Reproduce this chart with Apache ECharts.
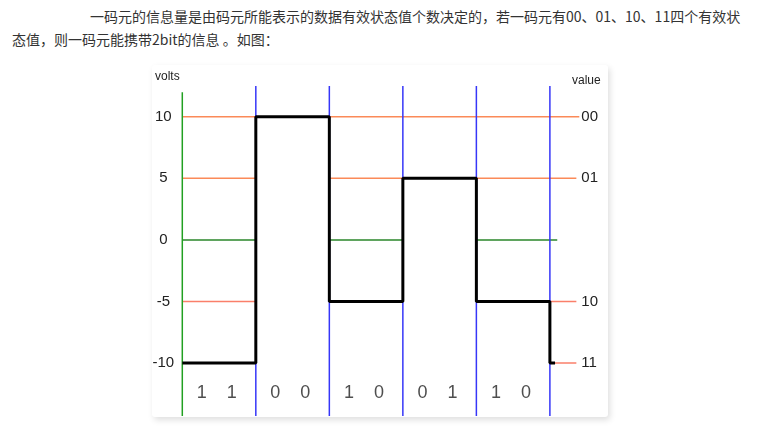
<!DOCTYPE html>
<html>
<head>
<meta charset="utf-8">
<script src="https://cdn.jsdelivr.net/npm/echarts@6/dist/echarts.min.js"></script>
<style>
  html, body { margin: 0; padding: 0; background: #fff; width: 781px; height: 434px; overflow: hidden; }
  .txt { position: absolute; font-family: "Noto Sans CJK SC", sans-serif; font-size: 14px; color: #333; white-space: nowrap; line-height: 20px; }
  #card { position: absolute; left: 152px; top: 65px; width: 456px; height: 352px; background: #fff;
          border-radius: 3px; box-shadow: 2px 3px 6px rgba(0,0,0,0.13); }
  #chart { position: absolute; left: 0; top: 0; width: 781px; height: 434px; }
</style>
</head>
<body>
<div class="txt" style="left:90px; top:6px;">一码元的信息量是由码元所能表示的数据有效状态值个数决定的，若一码元有00、01、10、11四个有效状</div>
<div class="txt" style="left:12px; top:29px;">态值，则一码元能携带2bit的信息 。如图：</div>
<div id="card"></div>
<div id="chart"></div>
<script>
// ---- data ----
const voltTicks = [10, 5, 0, -5, -10];
const codeLevels = [10, 5, -5, -10];
const codeLabels = ['00', '01', '10', '11'];
const bits = ['11', '00', '10', '01', '10'];
const signalLevels = [-10, 10, -5, 5, -5, -10]; // last symbol only starts at the end
const symbolBoundaries = [1, 2, 3, 4, 5];
// reference level lines: [level, from, to]
const orangeLines = [[10, 0, 5.4], [5, 0, 1], [5, 2, 3], [5, 4, 5.36]];
const salmonLines = [[-5, 0, 1], [-5, 5, 5.36], [-10, 5, 5.36]];
const greenLines = [[0, 0, 1], [0, 2, 3], [0, 4, 5.1]];

const X_MIN = 0, X_MAX = 5.4, Y_MIN = -14.3, Y_MAX = 12.5;
const LAST_END = 5.07;

// build signal path
const signal = [];
signalLevels.forEach((lv, i) => {
  const end = Math.min(i + 1, LAST_END);
  signal.push([i, lv]);
  signal.push([end, lv]);
});

function seg(data, color, width, z) {
  return { type: 'line', data: data, symbol: 'none', silent: true, z: z,
           lineStyle: { color: color, width: width }, animation: false };
}
const series = [];
orangeLines.forEach(l => series.push(seg([[l[1], l[0]], [l[2], l[0]]], '#fb8a58', 1.5, 2)));
salmonLines.forEach(l => series.push(seg([[l[1], l[0]], [l[2], l[0]]], '#fa7f6a', 1.6, 2)));
greenLines.forEach(l => series.push(seg([[l[1], l[0]], [l[2], l[0]]], '#2a862a', 1.5, 2)));
symbolBoundaries.forEach(b => series.push(seg([[b, Y_MIN], [b, Y_MAX]], '#3636f8', 1.5, 3)));
series.push(seg([[0, Y_MIN], [0, 12]], '#22a022', 1.5, 4));
series.push(seg(signal, '#000', 3, 5));
series.push({
  type: 'scatter', symbolSize: 0, silent: true, animation: false, z: 6,
  data: bits.map((b, i) => [i + 0.47, -12.45, b]),
  label: { show: true, position: 'inside', color: '#222', fontSize: 18,
           fontFamily: 'Liberation Sans, Arial, sans-serif',
           formatter: p => p.data[2].split('').join('    ') }
});

const chart = echarts.init(document.getElementById('chart'), null, { renderer: 'canvas' });
chart.setOption({
  backgroundColor: 'transparent',
  animation: false,
  grid: { left: 182.3, top: 86, width: 397, height: 330 },
  xAxis: { type: 'value', min: X_MIN, max: X_MAX, show: false },
  yAxis: [
    { type: 'value', min: Y_MIN, max: Y_MAX, position: 'left',
      axisLine: { show: false }, axisTick: { show: false }, splitLine: { show: false },
      axisLabel: { customValues: voltTicks, color: '#222', fontSize: 15, align: 'center', margin: 19,
                   fontFamily: 'Liberation Sans, Arial, sans-serif' } },
    { type: 'value', min: Y_MIN, max: Y_MAX, position: 'right',
      axisLine: { show: false }, axisTick: { show: false }, splitLine: { show: false },
      axisLabel: { customValues: codeLevels, color: '#222', fontSize: 15, align: 'left', margin: 2,
                   fontFamily: 'Liberation Sans, Arial, sans-serif',
                   formatter: v => codeLabels[codeLevels.indexOf(v)] } }
  ],
  graphic: [
    { type: 'text', left: 155, top: 71, style: { text: 'volts', fontSize: 12, fill: '#222', fontFamily: 'Liberation Sans, Arial, sans-serif' } },
    { type: 'text', left: 572, top: 75, style: { text: 'value', fontSize: 12, fill: '#222', fontFamily: 'Liberation Sans, Arial, sans-serif' } }
  ],
  series: series
});
</script>
</body>
</html>
